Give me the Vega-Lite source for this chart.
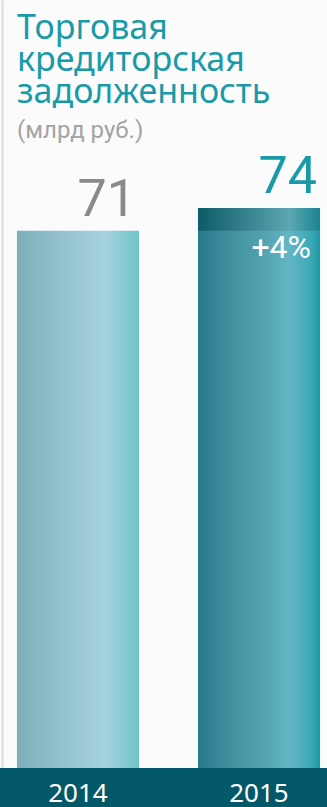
{
  "$schema": "https://vega.github.io/schema/vega-lite/v6.json",
  "width": 327,
  "height": 807,
  "autosize": "none",
  "padding": 0,
  "background": "#fbfbfb",
  "config": {"view": {"stroke": null}},
  "title": {
    "text": ["Торговая", "кредиторская", "задолженность"],
    "subtitle": "(млрд руб.)",
    "anchor": "start",
    "frame": "group",
    "orient": "top",
    "offset": -143,
    "dx": 17,
    "font": "Noto Sans",
    "fontSize": 34,
    "fontWeight": "normal",
    "lineHeight": 32,
    "color": "#1a9aa8",
    "subtitleFont": "Roboto",
    "subtitleFontSize": 24,
    "subtitleColor": "#a3a3a3",
    "subtitlePadding": 9
  },
  "data": {
    "values": [
      {"year": "2014", "value": 71},
      {"year": "2015", "value": 74, "prev": 71, "change": "+4%"}
    ]
  },
  "encoding": {
    "x": {
      "field": "year",
      "type": "nominal",
      "scale": {"paddingInner": 0.326, "paddingOuter": 0.066, "align": 0.708},
      "axis": null
    }
  },
  "layer": [
    {
      "mark": {"type": "rect", "color": "#045868"},
      "encoding": {
        "x": null,
        "y": {"datum": 0, "type": "quantitative", "scale": {"domain": [-5.15, 101.49], "nice": false, "zero": false},
              "axis": {"orient": "left", "labels": false, "ticks": false, "grid": false, "title": null, "domainColor": "#dcdcdc", "domainWidth": 2, "offset": -2}},
        "y2": {"datum": -5.15}
      }
    },
    {
      "transform": [{"filter": "datum.year == '2014'"}],
      "mark": {"type": "bar", "color": {"gradient": "linear", "x1": 0, "x2": 1, "y1": 0, "y2": 0,
        "stops": [{"offset": 0, "color": "#7eaeb9"}, {"offset": 0.4, "color": "#96c4ce"}, {"offset": 0.72, "color": "#a6d3dd"}, {"offset": 1, "color": "#6fc3ca"}]}},
      "encoding": {"y": {"field": "value", "type": "quantitative"}, "y2": {"datum": 0}}
    },
    {
      "transform": [{"filter": "datum.year == '2015'"}],
      "mark": {"type": "bar", "color": {"gradient": "linear", "x1": 0, "x2": 1, "y1": 0, "y2": 0,
        "stops": [{"offset": 0, "color": "#287989"}, {"offset": 0.25, "color": "#3f8f9f"}, {"offset": 0.5, "color": "#4f9fae"}, {"offset": 0.75, "color": "#64b6c5"}, {"offset": 0.93, "color": "#3aa8b5"}, {"offset": 1, "color": "#1898a6"}]}},
      "encoding": {"y": {"field": "value", "type": "quantitative"}, "y2": {"datum": 0}}
    },
    {
      "transform": [{"filter": "isValid(datum.prev)"}],
      "mark": {"type": "bar", "color": {"gradient": "linear", "x1": 0, "x2": 1, "y1": 0, "y2": 0,
        "stops": [{"offset": 0, "color": "#0d5a68"}, {"offset": 0.45, "color": "#3c8794"}, {"offset": 0.75, "color": "#5ca7b2"}, {"offset": 1, "color": "#1a8491"}]}},
      "encoding": {"y": {"field": "value", "type": "quantitative"}, "y2": {"field": "prev"}}
    },
    {
      "mark": {"type": "text", "align": "right", "baseline": "alphabetic", "dx": -3, "dy": -15, "font": "Roboto", "fontSize": 52},
      "encoding": {
        "x": {"field": "year", "type": "nominal", "bandPosition": 1},
        "y": {"field": "value", "type": "quantitative"},
        "text": {"field": "value", "type": "quantitative"},
        "color": {"field": "year", "type": "nominal", "scale": {"domain": ["2014", "2015"], "range": ["#8a8a8a", "#1a9aa8"]}, "legend": null}
      }
    },
    {
      "transform": [{"filter": "isValid(datum.change)"}],
      "mark": {"type": "text", "align": "right", "baseline": "alphabetic", "dx": -9, "dy": 50, "font": "Roboto", "fontSize": 32, "color": "white"},
      "encoding": {
        "x": {"field": "year", "type": "nominal", "bandPosition": 1},
        "y": {"field": "value", "type": "quantitative"},
        "text": {"field": "change"}
      }
    },
    {
      "mark": {"type": "text", "align": "center", "baseline": "alphabetic", "font": "Noto Sans", "fontSize": 26, "color": "white"},
      "encoding": {
        "y": {"datum": -4.55, "type": "quantitative"},
        "text": {"field": "year"}
      }
    }
  ]
}
